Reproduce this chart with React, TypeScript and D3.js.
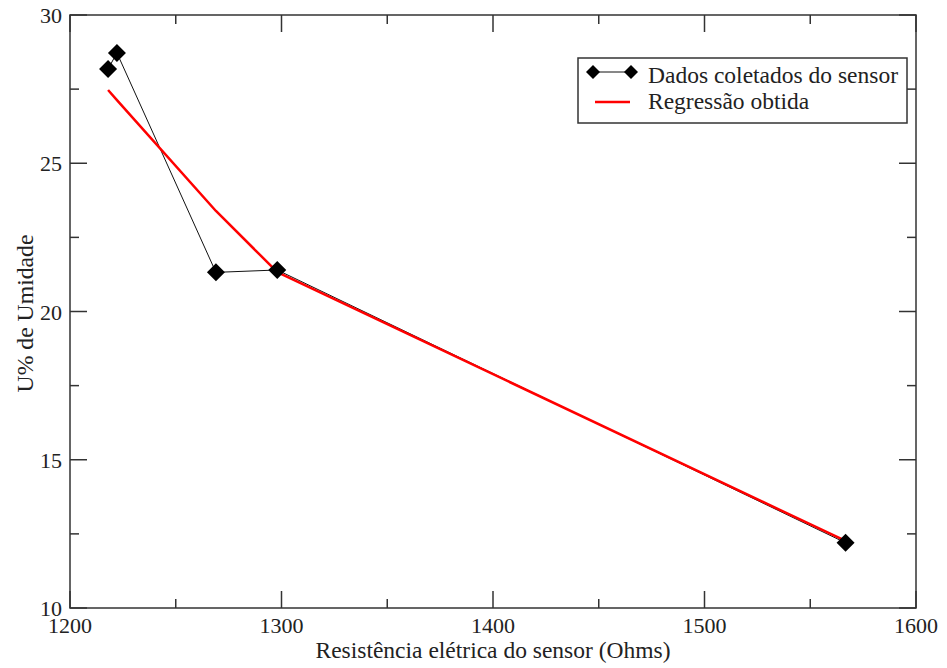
import React from "react";
import * as d3 from "d3";

const sensorX = [1218.0, 1222.2, 1269.0, 1298.0, 1566.7];
const sensorY = [28.18, 28.72, 21.32, 21.40, 12.20];
const regX = [1218.0, 1222.2, 1269.0, 1298.0, 1566.7];
const regY = [27.47, 27.13, 23.39, 21.33, 12.26];
const xTicks = [1200, 1300, 1400, 1500, 1600];
const xMinor = [1250, 1350, 1450, 1550];
const yTicks = [10, 15, 20, 25, 30];
const yMinor = [12.5, 17.5, 22.5, 27.5];
const legendLabels = ["Dados coletados do sensor", "Regressão obtida"];
const xTitle = "Resistência elétrica do sensor (Ohms)";
const yTitle = "U% de Umidade";

const W = 947, H = 668;
const L = 70, R = 916, T = 15, B = 608;
const FONT = "'Liberation Serif', 'Times New Roman', serif";
const AX = "#333";
const TXT = "#222";

function diamond(cx: number, cy: number, r: number) {
  return `M${cx},${cy - r}L${cx + r},${cy}L${cx},${cy + r}L${cx - r},${cy}Z`;
}

export default function App() {
  const x = d3.scaleLinear().domain([1200, 1600]).range([L, R]);
  const y = d3.scaleLinear().domain([10, 30]).range([B, T]);
  const line = d3.line<[number, number]>().x(d => x(d[0])).y(d => y(d[1]));
  const sensor: [number, number][] = sensorX.map((v, i) => [v, sensorY[i]]);
  const reg: [number, number][] = regX.map((v, i) => [v, regY[i]]);
  const MJ = 17, MN = 9;
  const ts = { fontFamily: FONT };
  return (
    <svg width={W} height={H} style={{ position: "absolute", left: 0, top: 0, background: "#fff", fontFamily: FONT }}>
      <rect x={0} y={0} width={W} height={H} fill="#fff" />
      {xTicks.map(t => (
        <g key={"xt" + t}>
          <line x1={x(t)} x2={x(t)} y1={B} y2={B - MJ} stroke={AX} strokeWidth={1.5} />
          <line x1={x(t)} x2={x(t)} y1={T} y2={T + MJ} stroke={AX} strokeWidth={1.5} />
          <text x={x(t)} y={633} fontSize={22} textAnchor="middle" fill={TXT} style={ts}>{t}</text>
        </g>
      ))}
      {xMinor.map(t => (
        <g key={"xm" + t}>
          <line x1={x(t)} x2={x(t)} y1={B} y2={B - MN} stroke={AX} strokeWidth={1.5} />
          <line x1={x(t)} x2={x(t)} y1={T} y2={T + MN} stroke={AX} strokeWidth={1.5} />
        </g>
      ))}
      {yTicks.map(t => (
        <g key={"yt" + t}>
          <line x1={L} x2={L + MJ} y1={y(t)} y2={y(t)} stroke={AX} strokeWidth={1.5} />
          <line x1={R} x2={R - MJ} y1={y(t)} y2={y(t)} stroke={AX} strokeWidth={1.5} />
          <text x={62} y={y(t) + 8} fontSize={22} textAnchor="end" fill={TXT} style={ts}>{t}</text>
        </g>
      ))}
      {yMinor.map(t => (
        <g key={"ym" + t}>
          <line x1={L} x2={L + MN} y1={y(t)} y2={y(t)} stroke={AX} strokeWidth={1.5} />
          <line x1={R} x2={R - MN} y1={y(t)} y2={y(t)} stroke={AX} strokeWidth={1.5} />
        </g>
      ))}
      <rect x={L} y={T} width={R - L} height={B - T} fill="none" stroke={AX} strokeWidth={1.5} />
      <path d={line(sensor) || ""} fill="none" stroke="#111" strokeWidth={1} />
      <path d={line(reg) || ""} fill="none" stroke="#ff0000" strokeWidth={2.5} strokeLinejoin="round" />
      {sensor.map((d, i) => (
        <path key={"p" + i} d={diamond(x(d[0]), y(d[1]), 9)} fill="#000" />
      ))}
      <rect x={578} y={58} width={329} height={65} fill="#fff" stroke={AX} strokeWidth={1.5} />
      <line x1={593} x2={631} y1={72} y2={72} stroke="#111" strokeWidth={1} />
      <path d={diamond(593, 72, 7)} fill="#000" />
      <path d={diamond(631, 72, 7)} fill="#000" />
      <text x={648} y={83} fontSize={23.5} fill={TXT} style={ts}>{legendLabels[0]}</text>
      <line x1={595} x2={630} y1={102} y2={102} stroke="#ff0000" strokeWidth={2.5} />
      <text x={648} y={109} fontSize={23.5} fill={TXT} style={ts}>{legendLabels[1]}</text>
      <text x={(L + R) / 2} y={658} fontSize={23.5} textAnchor="middle" fill={TXT} style={ts}>{xTitle}</text>
      <text transform={`translate(33,${(T + B) / 2 + 2}) rotate(-90)`} fontSize={23.7} textAnchor="middle" fill={TXT} style={ts}>{yTitle}</text>
    </svg>
  );
}
